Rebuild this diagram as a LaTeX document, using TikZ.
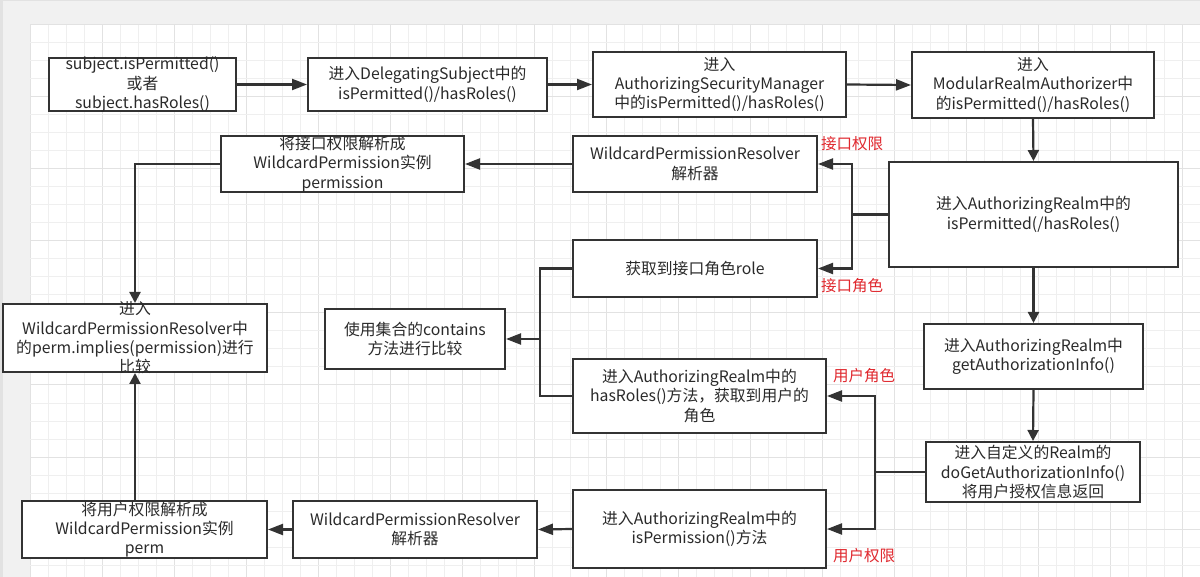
\documentclass[tikz,border=0pt]{standalone}
\usepackage{fontspec}
\setmainfont{Noto Sans CJK SC}
\usetikzlibrary{arrows.meta}
\definecolor{outerbg}{HTML}{F1F1F1}
\definecolor{edgegray}{HTML}{E2E2E2}
\definecolor{gridminor}{HTML}{EFEFEF}
\definecolor{gridmajor}{HTML}{E2E2E2}
\definecolor{linecol}{HTML}{333333}
\definecolor{textcol}{HTML}{2A2A2A}
\definecolor{redtxt}{HTML}{E0282E}
\tikzset{
  boxnode/.style 2 args={draw=linecol, line width=2pt, fill=white, inner sep=0pt,
    minimum width=#1, minimum height=#2},
  txt/.style={align=center, inner sep=0pt, text=textcol, font=\fontsize{15.8}{19.3}\selectfont},
  redlbl/.style={inner sep=0pt, text=redtxt, font=\fontsize{15.5}{19}\selectfont},
  conn/.style={draw=linecol, line width=2.2pt},
  arrh/.style={conn, -{Triangle[length=15pt,width=11pt]}},
  arrv/.style={conn, -{Triangle[length=11pt,width=11pt]}},
}
\begin{document}
\begin{tikzpicture}[x=1pt,y=-1pt]
\useasboundingbox (0,0) rectangle (1200,577);
% background and grid
\fill[outerbg] (0,0) rectangle (1200,577);
\fill[edgegray] (0,0) rectangle (3,577);
\fill[edgegray] (0,0) rectangle (1200,1.5);
\fill[white] (30,25) rectangle (1200,577);
\foreach \i in {0,...,65} {
  \pgfmathtruncatemacro{\m}{mod(\i,4)}
  \ifnum\m=0 \def\gc{gridmajor}\else\def\gc{gridminor}\fi
  \draw[\gc, line width=1pt] (30+18*\i,25) -- (30+18*\i,577);
}
\foreach \j in {0,...,30} {
  \pgfmathtruncatemacro{\m}{mod(\j,4)}
  \ifnum\m=0 \def\gc{gridmajor}\else\def\gc{gridminor}\fi
  \draw[\gc, line width=1pt] (30,25+18*\j) -- (1200,25+18*\j);
}
% nodes
\node[boxnode={187}{53}, label={[txt]center:{subject.isPermitted()\\或者\\subject.hasRoles()}}] (A) at (142.5,84.5) {};
\node[boxnode={239}{53}, label={[txt]center:{进入DelegatingSubject中的\\isPermitted()/hasRoles()}}] (B) at (427.5,84.5) {};
\node[boxnode={253}{65}, label={[txt]center:{进入\\AuthorizingSecurityManager\\中的isPermitted()/hasRoles()}}] (C) at (719.5,84.5) {};
\node[boxnode={242}{66}, label={[txt]center:{进入\\ModularRealmAuthorizer中\\的isPermitted()/hasRoles()}}] (D) at (1033,85) {};
\node[boxnode={289}{105}, label={[txt]center:{进入AuthorizingRealm中的\\isPermitted(/hasRoles()}}] (E) at (1033.5,214.5) {};
\node[boxnode={244}{56}, label={[txt]center:{WildcardPermissionResolver\\解析器}}] (WPRa) at (695,164) {};
\node[boxnode={244}{57}, label={[txt]center:{获取到接口角色role}}] (Role) at (695,268.5) {};
\node[boxnode={243}{56}, label={[txt]center:{将接口权限解析成\\WildcardPermission实例\\permission}}] (ParseA) at (342.5,164) {};
\node[boxnode={264}{68}, label={[txt]center:{进入\\WildcardPermissionResolver中\\的perm.implies(permission)进行\\比较}}] (Impl) at (135,338) {};
\node[boxnode={180}{60}, label={[txt]center:{使用集合的contains\\方法进行比较}}] (Cont) at (415,339) {};
\node[boxnode={253}{74}, label={[txt]center:{进入AuthorizingRealm中的\\hasRoles()方法，获取到用户的\\角色}}] (HasR) at (699.5,396) {};
\node[boxnode={219}{65}, label={[txt]center:{进入AuthorizingRealm中\\getAuthorizationInfo()}}] (GetA) at (1033.5,356.5) {};
\node[boxnode={214}{60}, label={[txt]center:{进入自定义的Realm的\\doGetAuthorizationInfo()\\将用户授权信息返回}}] (DoGet) at (1033,472) {};
\node[boxnode={253}{78}, label={[txt]center:{进入AuthorizingRealm中的\\isPermission()方法}}] (IsP) at (699.5,529) {};
\node[boxnode={244}{57}, label={[txt]center:{WildcardPermissionResolver\\解析器}}] (WPRb) at (415,529.5) {};
\node[boxnode={245}{57}, label={[txt]center:{将用户权限解析成\\WildcardPermission实例\\perm}}] (ParseB) at (144.5,529.5) {};
% red labels
\node[redlbl] (l1) at (852,144) {接口权限};
\node[redlbl] (l2) at (852,286) {接口角色};
\node[redlbl] (l3) at (864,376) {用户角色};
\node[redlbl] (l4) at (864,556) {用户权限};
% junctions
\coordinate (ej) at (852,214.5);
\coordinate (cj) at (540,339);
\coordinate (dj) at (875,472);
% connectors
\draw[arrh] (A.east) -- (B.west);
\draw[arrh] (B.east) -- (C.west);
\draw[arrh] (C.east) -- (D.west);
\draw[arrv] (D.south) -- (E.north);
\draw[conn] (E.west) -- (ej);
\draw[arrh] (ej) |- (WPRa.east);
\draw[arrh] (ej) |- (Role.east);
\draw[arrh] (WPRa.west) -- (ParseA.east);
\draw[arrv] (ParseA.west) -| (Impl.north);
\draw[conn] (Role.west) -| (cj);
\draw[conn] (HasR.west) -| (cj);
\draw[arrh] (cj) -- (Cont.east);
\draw[arrv] (E.south) -- (GetA.north);
\draw[arrv] (GetA.south) -- (DoGet.north);
\draw[conn] (DoGet.west) -- (dj);
\draw[arrh] (dj) |- (HasR.east);
\draw[arrh] (dj) |- (IsP.east);
\draw[arrh] (IsP.west) -- (WPRb.east);
\draw[arrh] (WPRb.west) -- (ParseB.east);
\draw[arrv] (Impl.south |- ParseB.north) -- (Impl.south);
\end{tikzpicture}
\end{document}
